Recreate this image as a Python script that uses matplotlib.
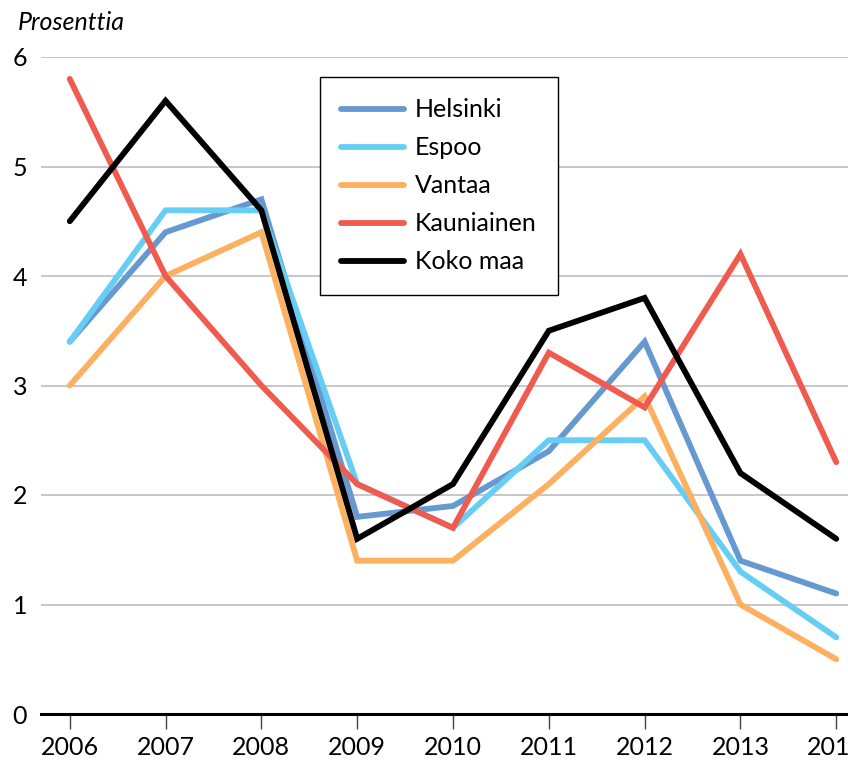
import matplotlib.pyplot as plt

years = [2006, 2007, 2008, 2009, 2010, 2011, 2012, 2013, 2014]
helsinki = [3.4, 4.4, 4.7, 1.8, 1.9, 2.4, 3.4, 1.4, 1.1]
espoo = [3.4, 4.6, 4.6, 2.1, 1.7, 2.5, 2.5, 1.3, 0.7]
vantaa = [3.0, 4.0, 4.4, 1.4, 1.4, 2.1, 2.9, 1.0, 0.5]
kauniainen = [5.8, 4.0, 3.0, 2.1, 1.7, 3.3, 2.8, 4.2, 2.3]
koko_maa = [4.5, 5.6, 4.6, 1.6, 2.1, 3.5, 3.8, 2.2, 1.6]

series = [
    ("Helsinki", helsinki, "#6699d0"),
    ("Espoo", espoo, "#66cdf5"),
    ("Vantaa", vantaa, "#fdb060"),
    ("Kauniainen", kauniainen, "#f05b50"),
    ("Koko maa", koko_maa, "#000000"),
]

plt.rcParams['font.family'] = ['Lato', 'DejaVu Sans']

fig = plt.figure(figsize=(8.48, 7.63), dpi=100)
# axes runs past the right edge, the last year label is cut like in the original
ax = fig.add_axes([41 / 848, 49 / 763, 824 / 848, 657 / 763])

for name, vals, col in series:
    ax.plot(years, vals, color=col, lw=4.2, label=name, solid_capstyle='round',
            solid_joinstyle='miter')

ax.set_xlim(2005.7, 2014.3)
ax.set_ylim(0, 6)
ax.set_xticks(years)
ax.set_yticks(range(0, 7))
ax.yaxis.grid(True, color='#bdbdbd', lw=1.2)
ax.set_axisbelow(True)

for s in ['top', 'right', 'left']:
    ax.spines[s].set_visible(False)
ax.spines['bottom'].set_linewidth(2.2)
ax.spines['bottom'].set_zorder(1)

ax.tick_params(axis='x', direction='out', length=11, width=1, color='#444444',
               labelsize=18, pad=5)
ax.tick_params(axis='y', length=0, labelsize=18, pad=10)

fig.text(18 / 848, 1 - 22 / 763, "Prosenttia", fontsize=18, style='italic',
         va='center', ha='left')

leg = fig.legend(loc='upper left', bbox_to_anchor=(320 / 848, 1 - 77 / 763),
                 bbox_transform=fig.transFigure, borderaxespad=0, fontsize=18,
                 handlelength=2.5, handletextpad=0.44, labelspacing=0.6,
                 borderpad=0.85, fancybox=False, framealpha=1)
leg.get_frame().set_edgecolor('black')
leg.get_frame().set_linewidth(1)

fig.savefig("out.png", dpi=100)
